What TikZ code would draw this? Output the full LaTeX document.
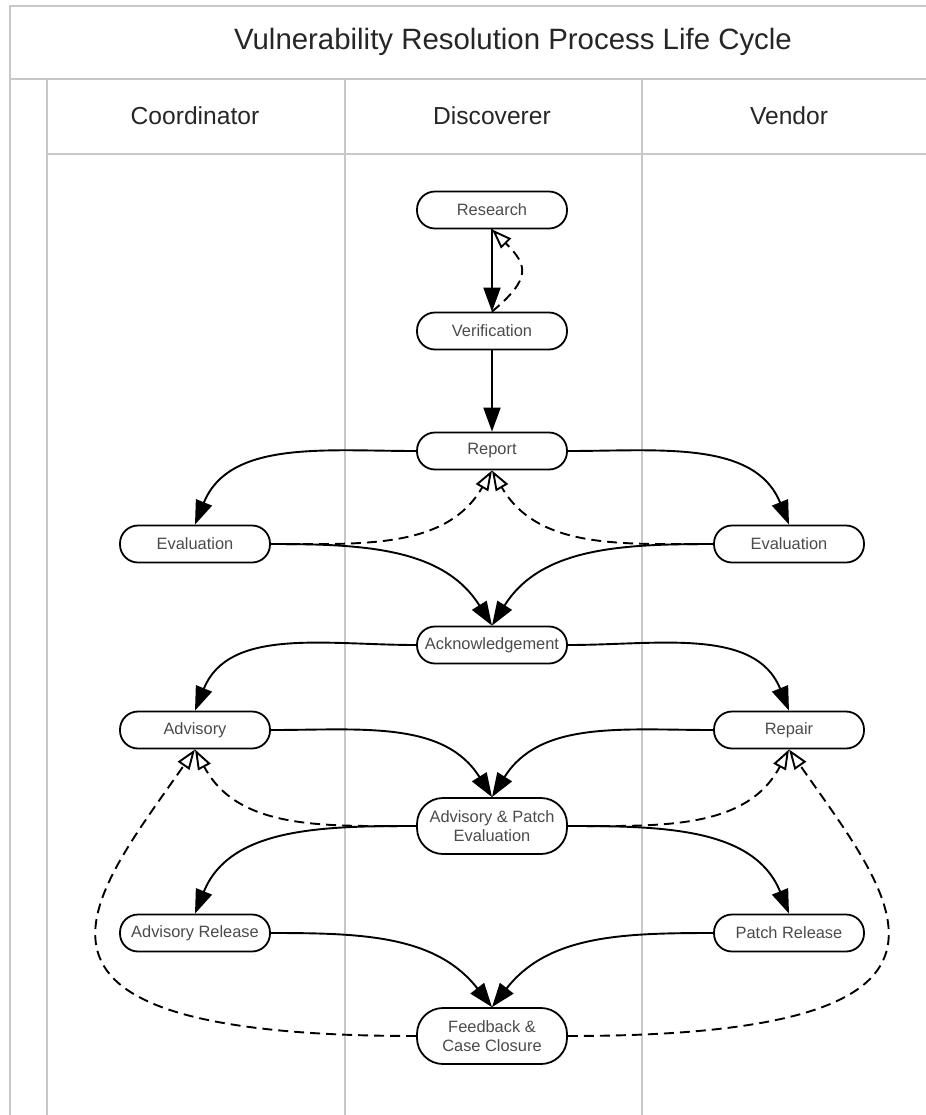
\documentclass[tikz,border=0pt]{standalone}
\usepackage{fontspec}
\setmainfont{Liberation Sans}
\usepackage{tikz}
\usetikzlibrary{arrows.meta, positioning}
\definecolor{laneGray}{RGB}{200,200,200}
\definecolor{textGray}{RGB}{75,75,75}
\tikzset{
    stepnode/.style={
        rectangle,
        draw,
        rounded corners=9pt,
        line width=0.9pt,
        fill=white,
        minimum width=75pt,
        minimum height=18.5pt,
        inner ysep=1pt,
        font=\fontsize{8.2}{9.5}\selectfont,
        text=textGray,
        align=center
    },
    twoline/.style={minimum height=28pt, rounded corners=13pt},
    flow/.style={
        -{Triangle[length=12pt,width=8.5pt]},
        line width=0.95pt
    },
    reply/.style={
        -{Triangle[open,length=10pt,width=7pt,fill=white]},
        line width=0.95pt,
        dash pattern=on 5pt off 3pt
    },
    lane/.style={draw=laneGray, line width=1pt},
    lanehead/.style={font=\fontsize{12.3}{14}\selectfont, text=black!85}
}

\begin{document}
\begin{tikzpicture}[x=0.5pt, y=-0.5pt]
    \useasboundingbox (0,0) rectangle (926,1115);

    % lanes
    \draw[lane] (10,1115) -- (10,6) -- (926,6);
    \draw[lane] (10,79) -- (926,79);
    \draw[lane] (47,1115) -- (47,79);
    \draw[lane] (47,154) -- (926,154);
    \draw[lane] (345,79) -- (345,1115);
    \draw[lane] (642,79) -- (642,1115);

    \node[font=\fontsize{14.7}{16}\selectfont, text=black!85] (title) at (513,42) {Vulnerability Resolution Process Life Cycle};
    \node[lanehead] (coordinator) at (195,116) {Coordinator};
    \node[lanehead] (discoverer) at (492,116) {Discoverer};
    \node[lanehead] (vendor) at (789,116) {Vendor};

    % steps
    \node[stepnode] (research) at (492,210) {Research};
    \node[stepnode] (verify) at (492,331) {Verification};
    \node[stepnode] (report) at (492,451) {Report};
    \node[stepnode] (evalC) at (195,544) {Evaluation};
    \node[stepnode] (evalV) at (789,544) {Evaluation};
    \node[stepnode] (ack) at (492,645) {Acknowledgement};
    \node[stepnode] (advisory) at (195,730) {Advisory};
    \node[stepnode] (repair) at (789,730) {Repair};
    \node[stepnode, twoline] (ape) at (492,826) {Advisory \& Patch\\Evaluation};
    \node[stepnode] (advrel) at (195,933) {Advisory Release};
    \node[stepnode] (patchrel) at (789,933) {Patch Release};
    \node[stepnode, twoline] (closure) at (492,1036) {Feedback \&\\Case Closure};

    % forward flow
    \draw[flow] (research) -- (verify);
    \draw[flow] (verify) -- (report);
    \draw[flow] (report.west) to[out=180, in=68] (evalC.north);
    \draw[flow] (report.east) to[out=0, in=112] (evalV.north);
    \draw[flow] (evalC.east) to[out=0, in=122] (ack.north);
    \draw[flow] (evalV.west) to[out=180, in=58] (ack.north);
    \draw[flow] (ack.west) to[out=180, in=68] (advisory.north);
    \draw[flow] (ack.east) to[out=0, in=112] (repair.north);
    \draw[flow] (advisory.east) to[out=0, in=122] (ape.north);
    \draw[flow] (repair.west) to[out=180, in=58] (ape.north);
    \draw[flow] (ape.west) to[out=180, in=68] (advrel.north);
    \draw[flow] (ape.east) to[out=0, in=112] (patchrel.north);
    \draw[flow] (advrel.east) to[out=0, in=128] (closure.north);
    \draw[flow] (patchrel.west) to[out=180, in=52] (closure.north);

    % feedback
    \draw[reply] (verify.north) to[out=40, in=-45, looseness=1.6] (research.south);
    \draw[reply] (evalC.east) to[out=0, in=-120] (report.south);
    \draw[reply] (evalV.west) to[out=180, in=-60] (report.south);
    \draw[reply] (ape.west) to[out=180, in=-62] (advisory.south);
    \draw[reply] (ape.east) to[out=0, in=-118] (repair.south);
    \draw[reply] (closure.west) .. controls (-30,1036) and (90,900) .. (advisory.south);
    \draw[reply] (closure.east) .. controls (1014,1036) and (894,900) .. (repair.south);
\end{tikzpicture}
\end{document}
